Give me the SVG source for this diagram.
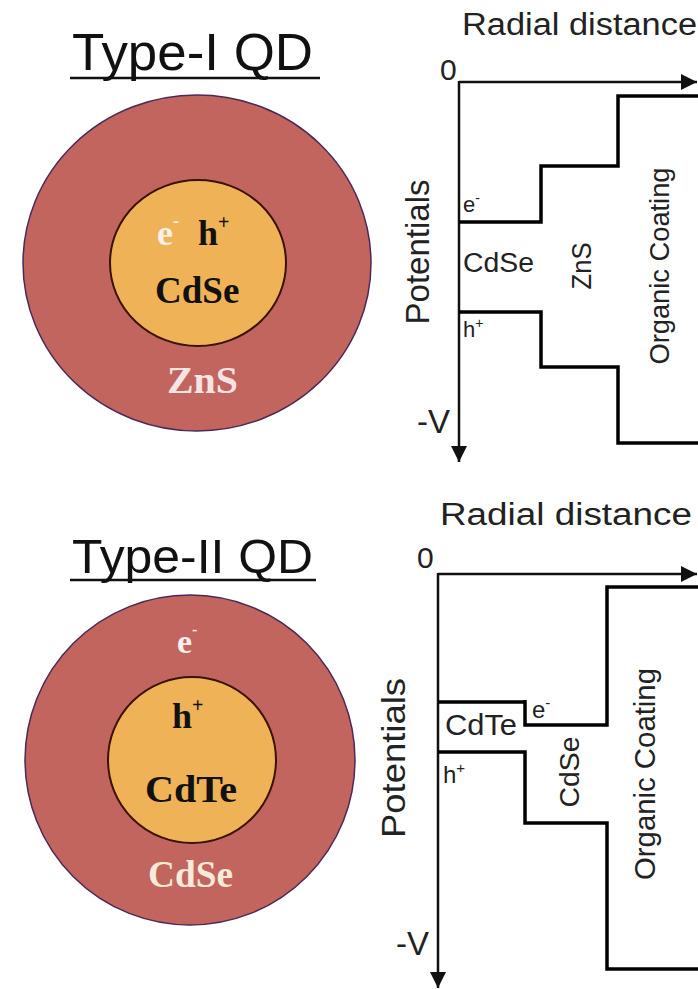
<svg xmlns="http://www.w3.org/2000/svg" width="698" height="989" viewBox="0 0 698 989">
<style>
.title{font-family:"Liberation Sans",Arial,sans-serif;fill:#111}
.sans{font-family:"Liberation Sans",Arial,sans-serif;fill:#222}
.serif{font-family:"Liberation Serif","Times New Roman",serif;font-weight:bold}
.shell{fill:#c2655f;stroke:#4a2a55;stroke-width:1.5}
.core{fill:#f0b256;stroke:#3a1208;stroke-width:2}
.axis{fill:none;stroke:#111;stroke-width:2.5}
.band{fill:none;stroke:#000;stroke-width:3.5;stroke-linejoin:miter}
</style>
<defs>
<marker id="arr" viewBox="0 0 10 10" refX="10" refY="5" markerWidth="16" markerHeight="16" markerUnits="userSpaceOnUse" orient="auto">
<path d="M0,0 L10,5 L0,10 Z" fill="#111"/>
</marker>
</defs>
<rect width="698" height="989" fill="#fff"/>

<g id="type1-qd">
<text class="title" x="72" y="70" font-size="52" textLength="241" lengthAdjust="spacingAndGlyphs">Type-I QD</text>
<line x1="70" y1="78" x2="320" y2="78" stroke="#111" stroke-width="2.5"/>
<ellipse class="shell" cx="197" cy="263" rx="174" ry="168"/>
<ellipse class="core" cx="198" cy="263" rx="88" ry="83"/>
<text class="serif" x="157" y="245" font-size="36" fill="#f8f0e8" font-weight="normal">e<tspan font-size="18" dy="-18">-</tspan></text>
<text class="serif" x="198" y="245" font-size="36" fill="#111">h<tspan font-size="20" dy="-16">+</tspan></text>
<text class="serif" x="155" y="303" font-size="37" fill="#111">CdSe</text>
<text class="serif" x="167" y="393" font-size="37" fill="#f6e4e4" textLength="71" lengthAdjust="spacingAndGlyphs">ZnS</text>
</g>

<g id="type1-plot">
<text class="sans" x="462" y="35" font-size="31" textLength="235" lengthAdjust="spacingAndGlyphs">Radial distance</text>
<text class="sans" x="440" y="80" font-size="30">0</text>
<text class="sans" x="417" y="433" font-size="33">-V</text>
<text class="sans" transform="rotate(-90 429 252)" x="429" y="252" font-size="33" text-anchor="middle" textLength="145" lengthAdjust="spacingAndGlyphs">Potentials</text>
<text class="sans" x="463" y="212" font-size="22">e<tspan font-size="14" dy="-9">-</tspan></text>
<text class="sans" x="463" y="272" font-size="27" fill="#333" textLength="71" lengthAdjust="spacingAndGlyphs">CdSe</text>
<text class="sans" x="463" y="337" font-size="22">h<tspan font-size="14" dy="-9">+</tspan></text>
<text class="sans" transform="rotate(-90 591 266)" x="591" y="266" font-size="27" text-anchor="middle" textLength="47" lengthAdjust="spacingAndGlyphs">ZnS</text>
<text class="sans" transform="rotate(-90 669 266)" x="669" y="266" font-size="27" text-anchor="middle" textLength="197" lengthAdjust="spacingAndGlyphs">Organic Coating</text>
</g>

<g id="type2-qd">
<text class="title" x="72" y="573" font-size="49" textLength="241" lengthAdjust="spacingAndGlyphs">Type-II QD</text>
<line x1="70" y1="580" x2="316" y2="580" stroke="#111" stroke-width="2.5"/>
<ellipse class="shell" cx="190" cy="760" rx="165" ry="165"/>
<ellipse class="core" cx="192" cy="760" rx="84" ry="83"/>
<text class="serif" x="177" y="653" font-size="34" fill="#f8ecec">e<tspan font-size="16" dy="-18">-</tspan></text>
<text class="serif" x="172" y="728" font-size="36" fill="#111">h<tspan font-size="20" dy="-16">+</tspan></text>
<text class="serif" x="145" y="802" font-size="37" fill="#111" textLength="92" lengthAdjust="spacingAndGlyphs">CdTe</text>
<text class="serif" x="148" y="887" font-size="37" fill="#f6ead8" textLength="85" lengthAdjust="spacingAndGlyphs">CdSe</text>
</g>

<g id="type2-plot">
<text class="sans" x="440" y="525" font-size="31" textLength="252" lengthAdjust="spacingAndGlyphs">Radial distance</text>
<text class="sans" x="417" y="568" font-size="30">0</text>
<text class="sans" x="396" y="955" font-size="33">-V</text>
<text class="sans" transform="rotate(-90 405 758)" x="405" y="758" font-size="33" text-anchor="middle" textLength="160" lengthAdjust="spacingAndGlyphs">Potentials</text>
<text class="sans" x="445" y="735" font-size="29" fill="#333" textLength="72" lengthAdjust="spacingAndGlyphs">CdTe</text>
<text class="sans" x="532" y="718" font-size="24">e<tspan font-size="15" dy="-10">-</tspan></text>
<text class="sans" x="443" y="783" font-size="24">h<tspan font-size="15" dy="-10">+</tspan></text>
<text class="sans" transform="rotate(-90 579 772)" x="579" y="772" font-size="28" text-anchor="middle" textLength="71" lengthAdjust="spacingAndGlyphs">CdSe</text>
<text class="sans" transform="rotate(-90 655 774)" x="655" y="774" font-size="29" text-anchor="middle" textLength="212" lengthAdjust="spacingAndGlyphs">Organic Coating</text>
</g>

<g id="connectors">
<line class="axis" x1="459" y1="82" x2="697" y2="82" marker-end="url(#arr)"/>
<line class="axis" x1="459" y1="81" x2="459" y2="462" marker-end="url(#arr)"/>
<path class="band" d="M459,222 H541 V166 H618 V96 H698"/>
<path class="band" d="M459,312 H541 V367 H618 V443 H698"/>
<line class="axis" x1="438" y1="574" x2="697" y2="574" marker-end="url(#arr)"/>
<line class="axis" x1="438" y1="573" x2="438" y2="988" marker-end="url(#arr)"/>
<path class="band" d="M438,702 H525" stroke-width="5"/>
<path class="band" d="M525,700 V725 H607 V587 H698"/>
<path class="band" d="M438,752 H525 V823 H607 V969 H698"/>
</g>
</svg>
